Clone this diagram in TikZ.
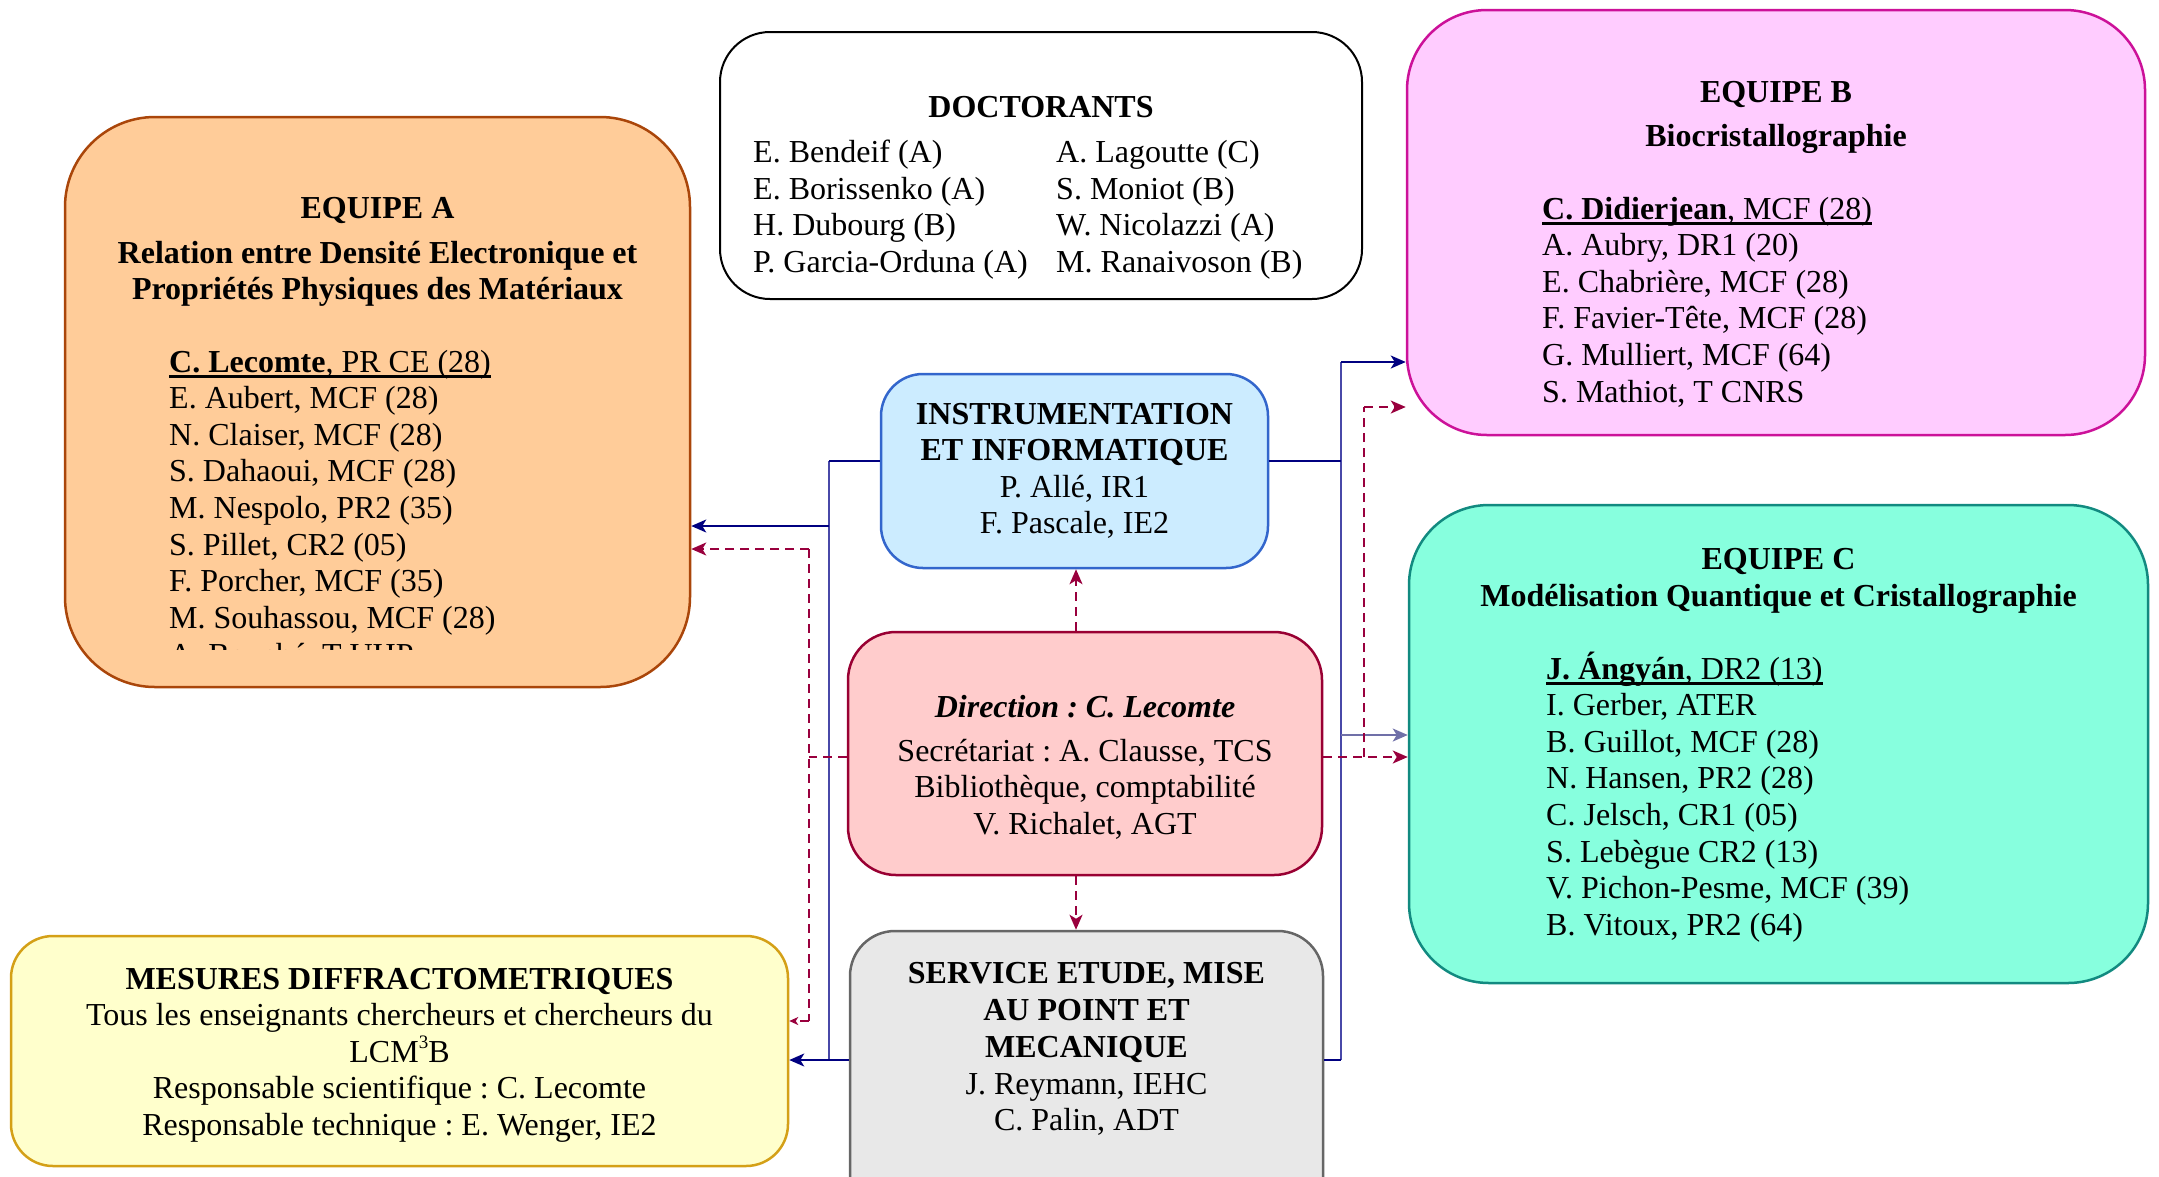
\documentclass[tikz,border=0pt]{standalone}
\usepackage{fontspec}
\setmainfont{Liberation Serif}
\usetikzlibrary{arrows.meta,calc}
\definecolor{aFill}{HTML}{FFCC99}
\definecolor{aLine}{HTML}{AA460A}
\definecolor{bFill}{HTML}{FFCCFF}
\definecolor{bLine}{HTML}{CC1199}
\definecolor{cFill}{HTML}{87FFDE}
\definecolor{cLine}{HTML}{128A80}
\definecolor{iFill}{HTML}{CCECFF}
\definecolor{iLine}{HTML}{3366CC}
\definecolor{dFill}{HTML}{FFCCCC}
\definecolor{dLine}{HTML}{990033}
\definecolor{mFill}{HTML}{FFFFCC}
\definecolor{mLine}{HTML}{D4A017}
\definecolor{sFill}{HTML}{E8E8E8}
\definecolor{sLine}{HTML}{666666}
\definecolor{navyc}{HTML}{000080}
\definecolor{vlinec}{HTML}{4848A8}
\definecolor{greyc}{HTML}{7070A8}
\definecolor{dashc}{HTML}{99003D}
\newcommand\fsz{\fontsize{32}{36.6}\selectfont\frenchspacing}
\newcommand\supthree{\raisebox{0.42em}{\fontsize{19}{20}\selectfont 3}}
\begin{document}
\frenchspacing
\begin{tikzpicture}[x=1pt,y=-1pt,
  box/.style={inner sep=0pt, line width=2.5pt},
  txt/.style={inner sep=0pt, font=\fsz, anchor=base},
  lst/.style={inner sep=0pt, font=\fsz, anchor=base west},
  nv/.style={draw=navyc, line width=2pt},
  vl/.style={draw=vlinec, line width=2pt},
  gl/.style={draw=greyc, line width=2pt},
  dsh/.style={draw=dashc, line width=2pt, dash pattern=on 9pt off 6pt},
  tip/.style={-{Stealth[length=15pt,width=13pt,inset=4pt]}},
  smalltip/.style={-{Stealth[length=9pt,width=8pt,inset=2.5pt]}},
  ul/.style={line width=3pt}]
\useasboundingbox (0,0) rectangle (2159,1176);
\clip (0,0) rectangle (2159,1176);

% ---------- boxes ----------
\node[box, draw=aLine, fill=aFill, rounded corners=90pt, minimum width=625pt, minimum height=570pt] (boxA) at (377.5,402) {};
\node[box, draw=black, line width=2pt, fill=white, rounded corners=50pt, minimum width=642pt, minimum height=267pt] (doc) at (1041,165.5) {};
\node[box, draw=bLine, fill=bFill, rounded corners=80pt, minimum width=738pt, minimum height=425pt] (boxB) at (1776,222.5) {};
\node[box, draw=cLine, fill=cFill, rounded corners=80pt, minimum width=739pt, minimum height=478pt] (boxC) at (1778.5,744) {};
\node[box, draw=iLine, fill=iFill, rounded corners=42pt, minimum width=387pt, minimum height=194pt] (instr) at (1074.5,471) {};
\node[box, draw=dLine, fill=dFill, rounded corners=48pt, minimum width=474pt, minimum height=243pt] (dir) at (1085,753.5) {};
\node[box, draw=mLine, fill=mFill, rounded corners=42pt, minimum width=777pt, minimum height=230pt] (mes) at (399.5,1051) {};
\node[box, draw=sLine, fill=sFill, rounded corners=45pt, minimum width=473pt, minimum height=298pt] (serv) at (1086.5,1080) {};

% ---------- Equipe A ----------
\node[txt] (tA1) at (377.5,218) {\bfseries EQUIPE A};
\node[txt] (tA2) at (377.5,263) {\bfseries Relation entre Densité Electronique et};
\node[txt] (tA3) at (377.5,299) {\bfseries Propriétés Physiques des Matériaux};
\node[lst] (lA0) at (169,372) {\textbf{C. Lecomte}, PR CE (28)};
\draw[ul] ($(lA0.base west)+(0,4)$) -- ($(lA0.base east)+(0,4)$);
\foreach \t [count=\i] in {{E. Aubert, MCF (28)},{N. Claiser, MCF (28)},{S. Dahaoui, MCF (28)},{M. Nespolo, PR2 (35)},{S. Pillet, CR2 (05)},{F. Porcher, MCF (35)},{M. Souhassou, MCF (28)}}
  \node[lst] (lA\i) at (169,372+36.6*\i) {\t};
\begin{scope}
  \clip (0,0) rectangle (2159,649);
  \node[lst] (lA8) at (169,665) {A. Bouché, T UHP};
\end{scope}

% ---------- Doctorants ----------
\node[txt] (tD) at (1041,117) {\bfseries DOCTORANTS};
\foreach \t [count=\i] in {{E. Bendeif (A)},{E. Borissenko (A)},{H. Dubourg (B)},{P. Garcia-Orduna (A)}}
  \node[lst] (dL\i) at (753,125.9+36.6*\i) {\t};
\foreach \t [count=\i] in {{A. Lagoutte (C)},{S. Moniot (B)},{W. Nicolazzi (A)},{M. Ranaivoson (B)}}
  \node[lst] (dR\i) at (1056,125.9+36.6*\i) {\t};

% ---------- Equipe B ----------
\node[txt] (tB1) at (1776,102) {\bfseries EQUIPE B};
\node[txt] (tB2) at (1776,146) {\bfseries Biocristallographie};
\node[lst] (lB0) at (1542,219) {\textbf{C. Didierjean}, MCF (28)};
\draw[ul] ($(lB0.base west)+(0,4)$) -- ($(lB0.base east)+(0,4)$);
\foreach \t [count=\i] in {{A. Aubry, DR1 (20)},{E. Chabrière, MCF (28)},{F. Favier-Tête, MCF (28)},{G. Mulliert, MCF (64)},{S. Mathiot, T CNRS}}
  \node[lst] (lB\i) at (1542,219+36.6*\i) {\t};

% ---------- Equipe C ----------
\node[txt] (tC1) at (1778.5,569) {\bfseries EQUIPE C};
\node[txt] (tC2) at (1778.5,606) {\bfseries Modélisation Quantique et Cristallographie};
\node[lst] (lC0) at (1546,679) {\textbf{J. Ángyán}, DR2 (13)};
\draw[ul] ($(lC0.base west)+(0,4)$) -- ($(lC0.base east)+(0,4)$);
\foreach \t [count=\i] in {{I. Gerber, ATER},{B. Guillot, MCF (28)},{N. Hansen, PR2 (28)},{C. Jelsch, CR1 (05)},{S. Lebègue CR2 (13)},{V. Pichon-Pesme, MCF (39)},{B. Vitoux, PR2 (64)}}
  \node[lst] (lC\i) at (1546,679+36.6*\i) {\t};

% ---------- Instrumentation ----------
\node[txt] (tI1) at (1074.5,424) {\bfseries INSTRUMENTATION};
\node[txt] (tI2) at (1074.5,460.6) {\bfseries ET INFORMATIQUE};
\node[txt] (tI3) at (1074.5,497.2) {P. Allé, IR1};
\node[txt] (tI4) at (1074.5,533.8) {F. Pascale, IE2};

% ---------- Direction ----------
\node[txt] (tR1) at (1085,717) {\bfseries\itshape Direction : C. Lecomte};
\node[txt] (tR2) at (1085,761) {Secrétariat : A. Clausse, TCS};
\node[txt] (tR3) at (1085,797.6) {Bibliothèque, comptabilité};
\node[txt] (tR4) at (1085,834.2) {V. Richalet, AGT};

% ---------- Mesures ----------
\node[txt] (tM1) at (399.5,989) {\bfseries MESURES DIFFRACTOMETRIQUES};
\node[txt] (tM2) at (399.5,1025.6) {Tous les enseignants chercheurs et chercheurs du};
\node[txt] (tM3) at (399.5,1062.2) {LCM\supthree B};
\node[txt] (tM4) at (399.5,1098.8) {Responsable scientifique : C. Lecomte};
\node[txt] (tM5) at (399.5,1135.4) {Responsable technique : E. Wenger, IE2};

% ---------- Service ----------
\node[txt] (tS1) at (1086.5,983) {\bfseries SERVICE ETUDE, MISE};
\node[txt] (tS2) at (1086.5,1020) {\bfseries AU POINT ET};
\node[txt] (tS3) at (1086.5,1057) {\bfseries MECANIQUE};
\node[txt] (tS4) at (1086.5,1094) {J. Reymann, IEHC};
\node[txt] (tS5) at (1086.5,1130) {C. Palin, ADT};

% ---------- junctions ----------
\coordinate (jL1) at (829,461);
\coordinate (jL2) at (829,1060);
\coordinate (jR1) at (1341,362);
\coordinate (jR2) at (1341,1060);
\coordinate (jRi) at (1341,461);
\coordinate (yA) at (0,526);
\coordinate (yC) at (0,735);
\coordinate (kL1) at (809,549);
\coordinate (kL2) at (809,1021);
\coordinate (kR1) at (1364,407);
\coordinate (kR2) at (1364,757);
\coordinate (kT) at (1076,0);

% ---------- solid connectors ----------
\draw[vl] (jL1) -- (jL2);
\draw[vl] (jR1) -- (jR2);
\draw[nv] (instr.west |- jL1) -- (jL1);
\draw[nv, tip] (jL1 |- yA) -- (boxA.east |- yA);
\draw[nv, tip] (serv.west |- jL2) -- (mes.east |- jL2);
\draw[nv] (instr.east |- jRi) -- (jRi);
\draw[nv, tip] (jR1) -- (boxB.west |- jR1);
\draw[gl, tip] (jR1 |- yC) -- (boxC.west |- yC);
\draw[nv] (serv.east |- jR2) -- (jR2);

% ---------- dashed connectors ----------
\draw[dsh, tip] (dir.north -| kT) -- (instr.south -| kT);
\draw[dsh, tip] (dir.south -| kT) -- (serv.north -| kT);
\draw[dsh] (dir.west |- kR2) -- (kL1 |- kR2);
\draw[dsh] (kL1) -- (kL2);
\draw[dsh, tip] (kL1) -- (boxA.east |- kL1);
\draw[dsh, smalltip] (kL2) -- (mes.east |- kL2);
\draw[dsh, tip] (dir.east |- kR2) -- (boxC.west |- kR2);
\draw[dsh] (kR2) -- (kR1);
\draw[dsh, tip] (kR1) -- (boxB.west |- kR1);
\end{tikzpicture}
\end{document}
